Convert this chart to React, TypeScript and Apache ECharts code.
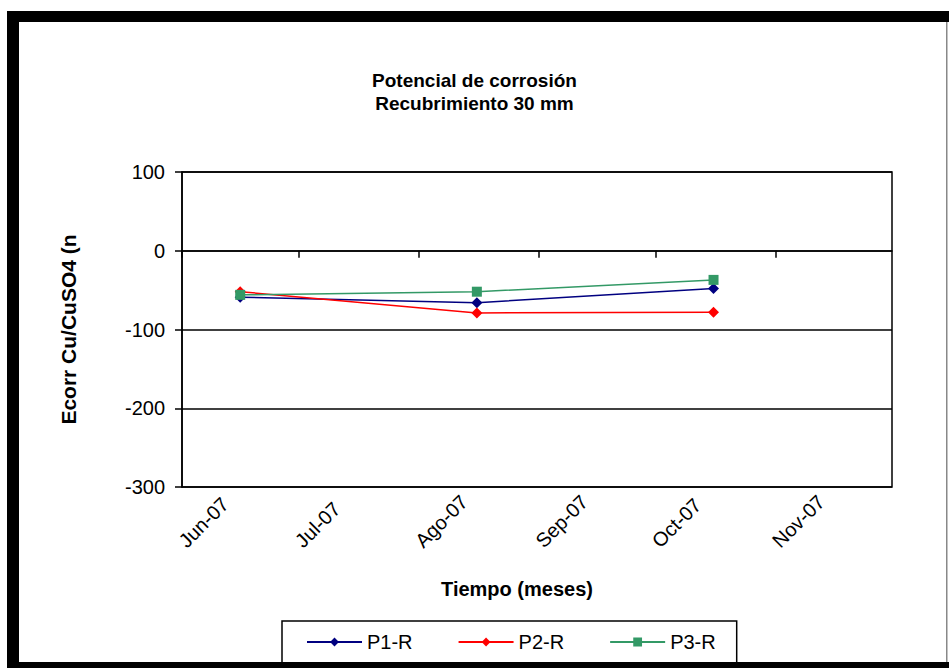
import React, { useEffect, useRef } from "react";
import * as echarts from "echarts";

const titleLines = ["Potencial de corrosión", "Recubrimiento 30 mm"];
const xAxisName = "Tiempo (meses)";
const yAxisName = "Ecorr Cu/CuSO4 (n";
const monthNames = ["Ene", "Feb", "Mar", "Abr", "May", "Jun", "Jul", "Ago", "Sep", "Oct", "Nov", "Dic"];
const measureDates = ["2007-06-16", "2007-08-16", "2007-10-16"];
const seriesNames = ["P1-R", "P2-R", "P3-R"];
const p1Values = [-59, -66, -48];
const p2Values = [-52, -79, -78];
const p3Values = [-56, -52, -37];
const xMin = "2007-06-01";
const xMax = "2007-12-01";
const yMin = -300;
const yMax = 100;
const yStep = 100;

const toDate = (s: string) => {
  const [y, m, d] = s.split("-").map(Number);
  return new Date(y, m - 1, d).getTime();
};

const FONT = 'Arial, "Liberation Sans", sans-serif';

export default function App() {
  const ref = useRef<HTMLDivElement>(null);
  useEffect(() => {
    if (!ref.current) return;
    const chart = echarts.init(ref.current, undefined, { renderer: "svg" });
    const mk = (vals: number[]) => measureDates.map((d, i) => [toDate(d), vals[i]]);
    const colors = ["#000080", "#FF0000", "#339966"];
    const symbols = ["diamond", "diamond", "rect"];
    const sizes = [11, 11, 10];
    const allVals = [p1Values, p2Values, p3Values];
    chart.setOption({
      animation: false,
      backgroundColor: "#ffffff",
      title: {
        text: titleLines.join("\n"),
        left: "center",
        top: 64,
        textStyle: { fontFamily: FONT, fontSize: 19, fontWeight: "bold", color: "#000", lineHeight: 23 },
      },
      grid: {
        left: 182,
        right: 57,
        top: 172,
        bottom: 181,
        show: true,
        borderColor: "#000",
        borderWidth: 1.5,
        backgroundColor: "transparent",
      },
      legend: {
        left: 282,
        top: 621,
        orient: "horizontal",
        itemWidth: 55,
        itemHeight: 11,
        itemGap: 45,
        padding: [11, 21, 20, 24],
        borderColor: "#000",
        borderWidth: 1.5,
        textStyle: { fontFamily: FONT, fontSize: 20, color: "#000" },
        data: seriesNames,
      },
      xAxis: {
        type: "time",
        min: toDate(xMin),
        max: toDate(xMax),
        splitNumber: 6,
        name: xAxisName,
        nameLocation: "middle",
        nameGap: 92,
        nameTextStyle: { fontFamily: FONT, fontSize: 20, fontWeight: "bold", color: "#000", padding: [0, 40, 0, 0] },
        axisLine: { show: true, lineStyle: { color: "#000", width: 1.5 } },
        axisTick: { show: true, length: 7, lineStyle: { color: "#000", width: 1.5 } },
        splitLine: { show: false },
        axisLabel: {
          rotate: 45,
          align: "left",
          verticalAlign: "middle",
          margin: 57,
          showMaxLabel: false,
          fontFamily: FONT,
          fontSize: 20,
          color: "#000",
          formatter: (v: number) => {
            const d = new Date(v);
            if (d.getMonth() === 11) return "";
            return monthNames[d.getMonth()] + "-" + String(d.getFullYear()).slice(2);
          },
        },
      },
      yAxis: {
        type: "value",
        min: yMin,
        max: yMax,
        interval: yStep,
        name: yAxisName,
        nameLocation: "middle",
        nameGap: 103,
        nameTextStyle: { fontFamily: FONT, fontSize: 21, fontWeight: "bold", color: "#000" },
        axisLine: { show: true, lineStyle: { color: "#000", width: 1.5 } },
        axisTick: { show: true, length: 7, lineStyle: { color: "#000", width: 1.5 } },
        splitLine: { show: true, lineStyle: { color: "#000", width: 1.5 } },
        axisLabel: { margin: 17, fontFamily: FONT, fontSize: 20, color: "#000" },
      },
      series: seriesNames.map((name, i) => ({
        name,
        type: "line",
        data: mk(allVals[i]),
        symbol: symbols[i],
        symbolSize: sizes[i],
        showSymbol: true,
        itemStyle: { color: colors[i] },
        lineStyle: { color: colors[i], width: 1.5 },
      })),
      graphic: [
        { type: "rect", z: 100, shape: { x: 7, y: 11, width: 942, height: 11 }, style: { fill: "#000" } },
        { type: "rect", z: 100, shape: { x: 7, y: 11, width: 12, height: 657 }, style: { fill: "#000" } },
        { type: "rect", z: 100, shape: { x: 7, y: 662, width: 942, height: 6 }, style: { fill: "#000" } },
        { type: "rect", z: 100, shape: { x: 946, y: 22, width: 1.5, height: 640 }, style: { fill: "#888" } },
      ],
    });
    return () => chart.dispose();
  }, []);
  return (
    <div
      ref={ref}
      style={{ position: "absolute", left: 0, top: 0, width: 949, height: 668, background: "#fff" }}
    />
  );
}
